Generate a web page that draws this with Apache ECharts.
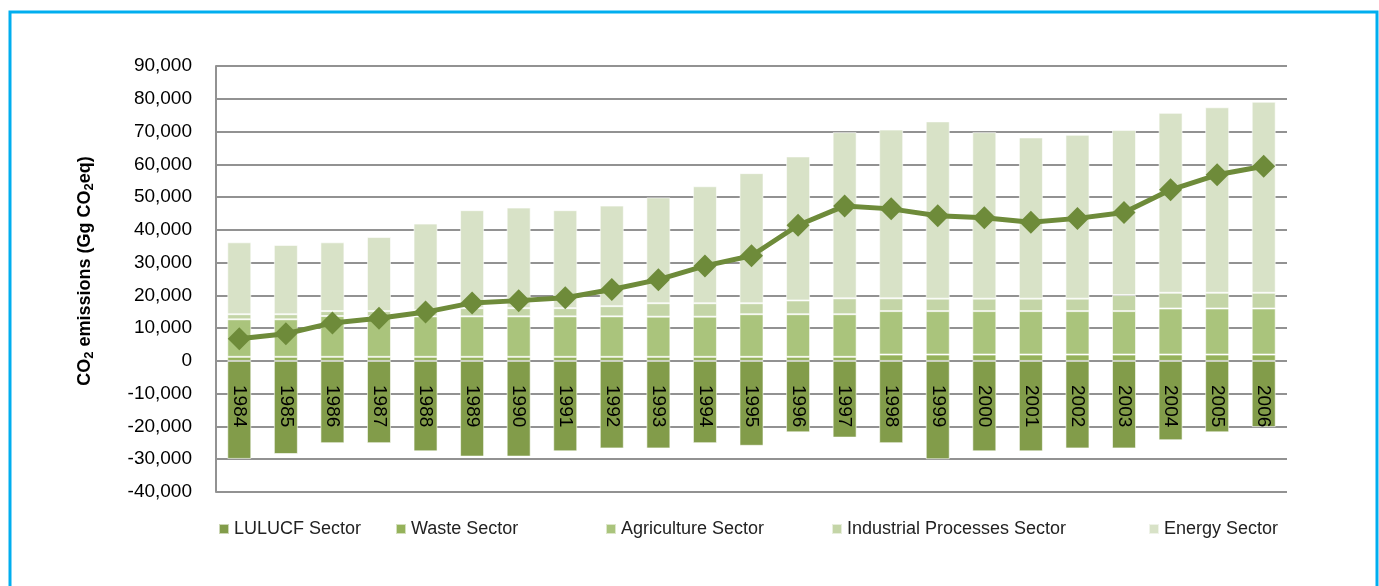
<!DOCTYPE html>
<html>
<head>
<meta charset="utf-8">
<title>CO2 emissions by sector</title>
<script src="https://cdn.jsdelivr.net/npm/echarts@6/dist/echarts.min.js"></script>
<style>
  html, body { margin: 0; padding: 0; background: #fff; }
  #chart { width: 1379px; height: 586px; }
</style>
</head>
<body>
<div id="chart"></div>
<script>
// years along the x axis
var years = ['1984', '1985', '1986', '1987', '1988', '1989', '1990', '1991', '1992', '1993', '1994', '1995',
  '1996', '1997', '1998', '1999', '2000', '2001', '2002', '2003', '2004', '2005', '2006'];

// sector values (Gg CO2eq)
var lulucf = [-29900, -28400, -25100, -25100, -27600, -29200, -29200, -27600, -26700, -26700, -25100, -25900,
  -21800, -23400, -25100, -30000, -27600, -27600, -26700, -26700, -24200, -21800, -20200];
var waste = [1250, 1250, 1250, 1250, 1250, 1250, 1250, 1250, 1250, 1250, 1250, 1250,
  1250, 1250, 1950, 1950, 1950, 1950, 1950, 1950, 1950, 1950, 1950];
var agriculture = [11450, 11450, 12450, 12350, 12350, 12350, 12350, 12350, 12350, 12250, 12250, 13000,
  13000, 13000, 13250, 13250, 13250, 13250, 13250, 13250, 14050, 14050, 14050];
var industrial = [1550, 1550, 1500, 1600, 1900, 2500, 2500, 2500, 3100, 4100, 4100, 3350,
  4200, 4850, 3900, 3800, 3800, 3800, 3800, 4900, 4800, 4800, 4800];
var energy = [21950, 21150, 21000, 22600, 26400, 29900, 30700, 29900, 30700, 32300, 35700, 39700,
  43950, 50700, 51500, 54100, 50800, 49200, 50000, 50400, 54900, 56600, 58300];
// net emissions line
var netTotal = [6800, 8300, 11600, 13000, 14900, 17700, 18400, 19300, 21800, 24800, 29000, 32100,
  41400, 47300, 46400, 44300, 43700, 42300, 43500, 45300, 52200, 56800, 59400];

var sectorNames = ['LULUCF Sector', 'Waste Sector', 'Agriculture Sector', 'Industrial Processes Sector', 'Energy Sector'];
var sectorColors = ['#829c4a', '#95b25a', '#aac47c', '#c4d5a7', '#d8e2c7'];
var sectorData = [lulucf, waste, agriculture, industrial, energy];
var legendLeft = [213, 390, 600, 826, 1143];

var font = "'Liberation Sans', Arial, sans-serif";
var gridGray = '#929292';

var chart = echarts.init(document.getElementById('chart'));

var series = [];
for (var i = 0; i < sectorNames.length; i++) {
  series.push({
    name: sectorNames[i],
    type: 'bar',
    stack: 'sectors',
    barWidth: 24,
    itemStyle: {
      color: sectorColors[i],
      borderColor: 'rgba(255,255,255,0.6)',
      borderWidth: 1
    },
    data: sectorData[i]
  });
}
series.push({
  name: 'Net emissions',
  type: 'line',
  data: netTotal,
  symbol: 'diamond',
  symbolSize: 23,
  lineStyle: { color: '#6e8b3a', width: 5 },
  itemStyle: { color: '#6e8b3a' },
  z: 5
});

// one legend per item so the uneven spacing can be matched
var legends = [];
for (var j = 0; j < sectorNames.length; j++) {
  legends.push({
    data: [sectorNames[j]],
    left: legendLeft[j],
    top: 515,
    icon: 'rect',
    itemWidth: 10,
    itemHeight: 10,
    textStyle: { fontFamily: font, fontSize: 18, color: '#222', lineHeight: 18 }
  });
}

var option = {
  animation: false,
  textStyle: { fontFamily: font },
  graphic: [{
    type: 'rect',
    shape: { x: 10, y: 12, width: 1367, height: 620 },
    style: { fill: 'none', stroke: '#00aeef', lineWidth: 3 },
    silent: true
  }],
  legend: legends,
  grid: { left: 216, right: 92, top: 66, bottom: 94 },
  xAxis: {
    type: 'category',
    data: years,
    z: 10, // keep the year labels above the bars
    axisLine: { show: false },
    axisTick: { show: false },
    axisLabel: {
      // years sit inside the LULUCF bars, just under zero
      rotate: -90,
      margin: -107,
      fontSize: 19,
      color: '#000',
      fontFamily: font
    }
  },
  yAxis: {
    type: 'value',
    min: -40000,
    max: 90000,
    interval: 10000,
    name: '{b|CO}{s|2}{b| emissions (Gg CO}{s|2}{b|eq)}',
    nameLocation: 'middle',
    nameRotate: 90,
    nameGap: 120,
    nameTextStyle: {
      padding: [0, 0, 0, 16],
      rich: {
        b: { fontFamily: font, fontWeight: 'bold', fontSize: 18, color: '#000', lineHeight: 22 },
        s: { fontFamily: font, fontWeight: 'bold', fontSize: 13, color: '#000', lineHeight: 13, verticalAlign: 'bottom' }
      }
    },
    axisLine: { show: true, lineStyle: { color: gridGray, width: 2 } },
    axisTick: { show: false },
    splitLine: { lineStyle: { color: gridGray, width: 2 } },
    axisLabel: {
      margin: 24,
      fontSize: 19,
      color: '#000',
      fontFamily: font,
      formatter: function (v) { return v.toLocaleString('en-US'); }
    }
  },
  series: series
};

chart.setOption(option);
</script>
</body>
</html>
